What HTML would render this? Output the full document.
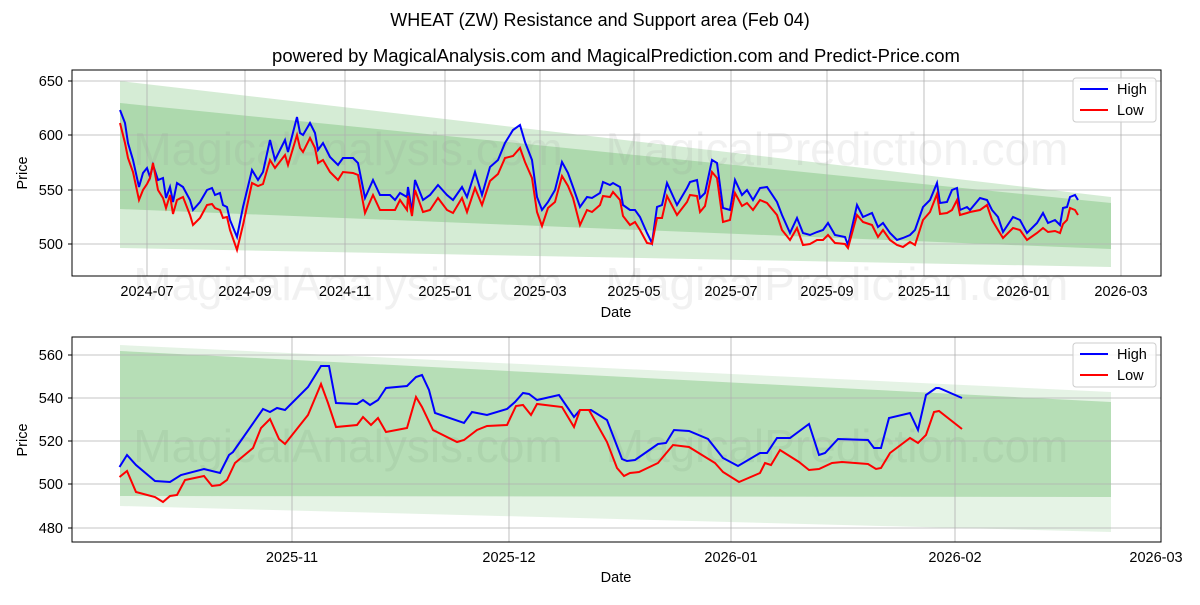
<!DOCTYPE html>
<html><head><meta charset="utf-8"><style>
body{margin:0;background:#fff;}
svg text{font-family:"Liberation Sans","DejaVu Sans",sans-serif;}
</style></head><body>
<svg width="1200" height="600" xmlns="http://www.w3.org/2000/svg">
<rect width="1200" height="600" fill="#fff"/>
<text x="600" y="26" font-size="18" text-anchor="middle">WHEAT (ZW) Resistance and Support area (Feb 04)</text>
<text x="616" y="62" font-size="18.5" text-anchor="middle">powered by MagicalAnalysis.com and MagicalPrediction.com and Predict-Price.com</text>

<!-- TOP CHART -->
<polygon points="120,81 1111,197 1111,267 120,248" fill="#2ca02c" fill-opacity="0.2"/>
<polygon points="120,103 1111,203 1111,249 120,209" fill="#2ca02c" fill-opacity="0.24"/>
<g stroke="#b0b0b0" stroke-width="0.8">
<line x1="72" y1="81" x2="1161" y2="81"/><line x1="72" y1="135" x2="1161" y2="135"/><line x1="72" y1="190" x2="1161" y2="190"/><line x1="72" y1="244" x2="1161" y2="244"/>
<line x1="147" y1="70" x2="147" y2="276"/><line x1="245" y1="70" x2="245" y2="276"/><line x1="345" y1="70" x2="345" y2="276"/><line x1="445" y1="70" x2="445" y2="276"/><line x1="540" y1="70" x2="540" y2="276"/><line x1="634" y1="70" x2="634" y2="276"/><line x1="731" y1="70" x2="731" y2="276"/><line x1="827" y1="70" x2="827" y2="276"/><line x1="924" y1="70" x2="924" y2="276"/><line x1="1023" y1="70" x2="1023" y2="276"/><line x1="1121" y1="70" x2="1121" y2="276"/>
</g>
<g fill="#888" fill-opacity="0.12" font-size="46">
<text x="348" y="165" text-anchor="middle">MagicalAnalysis.com</text>
<text x="837" y="165" text-anchor="middle">MagicalPrediction.com</text>
<text x="348" y="300" text-anchor="middle">MagicalAnalysis.com</text>
<text x="837" y="300" text-anchor="middle">MagicalPrediction.com</text>
<text x="348" y="462" text-anchor="middle">MagicalAnalysis.com</text>
<text x="837" y="462" text-anchor="middle">MagicalPrediction.com</text>
</g>
<polyline fill="none" stroke="#0000ff" stroke-width="2" points="120,110 125,123 128,143 133,160 139,187 143,173 147,168 150,177 153,165 158,180 163,178 166,198 170,187 173,202 177,183 183,187 190,200 193,210 200,202 207,190 212,188 215,195 220,193 223,205 227,207 230,220 237,237 243,207 252,170 258,180 263,172 270,140 275,160 285,140 288,152 297,117 300,133 303,135 310,123 315,133 318,150 323,143 330,157 338,165 343,158 353,158 358,163 365,198 373,180 380,195 390,195 395,200 400,193 407,197 408,187 412,212 415,180 423,200 430,195 438,185 447,195 453,200 462,187 467,197 475,172 482,195 490,167 498,160 505,143 513,130 520,125 525,142 532,160 537,197 542,210 548,202 555,190 562,162 568,173 573,187 580,207 587,197 592,198 600,193 603,182 610,185 613,183 620,187 623,205 630,210 635,210 640,217 647,233 652,243 657,207 662,205 667,183 677,205 687,188 690,182 697,180 700,198 705,193 712,160 717,163 723,208 730,210 735,180 742,195 747,190 753,200 760,188 767,187 777,202 782,215 790,233 797,218 803,233 810,235 817,232 823,230 828,223 835,235 845,237 848,245 857,205 863,217 872,213 878,227 883,223 890,233 897,240 903,238 910,235 915,230 923,207 930,200 937,183 940,203 947,202 952,190 957,188 960,210 967,207 970,210 980,198 987,200 992,210 998,217 1003,232 1013,217 1020,220 1027,233 1037,223 1043,213 1048,223 1055,220 1060,225 1063,208 1067,207 1070,197 1075,195 1078,200"/>
<polyline fill="none" stroke="#ff0000" stroke-width="2" points="120,123 125,143 128,158 133,172 139,200 143,190 147,184 150,178 153,163 158,190 163,198 166,208 170,195 173,214 177,200 183,197 190,215 193,225 200,218 207,205 212,204 215,208 220,210 223,218 227,217 230,230 237,250 243,225 252,183 258,186 263,184 270,160 275,168 285,155 288,165 297,135 300,148 303,152 310,138 315,148 318,163 323,160 330,172 338,180 343,172 353,173 358,175 365,213 373,195 380,210 390,210 395,210 400,200 407,210 408,196 412,216 415,190 423,212 430,210 438,198 447,210 453,213 462,198 467,212 475,188 482,205 490,181 498,174 505,158 513,156 520,148 525,162 532,178 537,212 542,226 548,208 555,202 562,176 568,186 573,198 580,225 587,210 592,212 600,205 603,196 610,197 613,192 620,200 623,216 630,225 635,222 640,230 647,243 652,244 657,218 662,218 667,196 677,215 687,202 690,195 697,196 700,212 705,206 712,172 717,178 723,222 730,220 735,193 742,206 747,203 753,210 760,200 767,203 777,215 782,230 790,240 797,228 803,245 810,244 817,240 823,240 828,235 835,243 845,244 848,248 857,215 863,222 872,225 878,237 883,230 890,240 897,245 903,247 910,242 915,245 923,220 930,212 937,194 940,214 947,213 952,210 957,200 960,215 967,213 970,212 980,210 987,205 992,220 998,230 1003,238 1013,228 1020,230 1027,240 1037,233 1043,228 1048,232 1055,231 1060,233 1063,224 1067,220 1070,208 1075,210 1078,215"/>
<rect x="72" y="70" width="1089" height="206" fill="none" stroke="#000" stroke-width="1"/>
<g font-size="14.5" text-anchor="end">
<text x="63" y="86">650</text><text x="63" y="140">600</text><text x="63" y="195">550</text><text x="63" y="249">500</text>
</g>
<g stroke="#000"><line x1="68" y1="81" x2="72" y2="81"/><line x1="68" y1="135" x2="72" y2="135"/><line x1="68" y1="190" x2="72" y2="190"/><line x1="68" y1="244" x2="72" y2="244"/></g>
<g font-size="14.5" text-anchor="middle">
<text x="147" y="296">2024-07</text><text x="245" y="296">2024-09</text><text x="345" y="296">2024-11</text><text x="445" y="296">2025-01</text><text x="540" y="296">2025-03</text><text x="634" y="296">2025-05</text><text x="731" y="296">2025-07</text><text x="827" y="296">2025-09</text><text x="924" y="296">2025-11</text><text x="1023" y="296">2026-01</text><text x="1121" y="296">2026-03</text>
<text x="616" y="317">Date</text>
</g>
<text x="27" y="173" font-size="14.5" text-anchor="middle" transform="rotate(-90 27 173)">Price</text>
<rect x="1073" y="78" width="83" height="44" rx="3" fill="#fff" fill-opacity="0.85" stroke="#ccc"/>
<line x1="1080" y1="89" x2="1108" y2="89" stroke="#0000ff" stroke-width="2"/><text x="1117" y="94" font-size="14.5">High</text>
<line x1="1080" y1="110" x2="1108" y2="110" stroke="#ff0000" stroke-width="2"/><text x="1117" y="115" font-size="14.5">Low</text>

<!-- BOTTOM CHART -->
<polygon points="120,345 1111,392 1111,532 120,506" fill="#2ca02c" fill-opacity="0.12"/>
<polygon points="120,351 1111,402 1111,497 120,496" fill="#2ca02c" fill-opacity="0.25"/>
<g stroke="#b0b0b0" stroke-width="0.8">
<line x1="72" y1="355" x2="1161" y2="355"/><line x1="72" y1="398" x2="1161" y2="398"/><line x1="72" y1="441" x2="1161" y2="441"/><line x1="72" y1="484" x2="1161" y2="484"/><line x1="72" y1="528" x2="1161" y2="528"/>
<line x1="292" y1="337" x2="292" y2="542"/><line x1="509" y1="337" x2="509" y2="542"/><line x1="731" y1="337" x2="731" y2="542"/><line x1="955" y1="337" x2="955" y2="542"/>
</g>
<polyline fill="none" stroke="#0000ff" stroke-width="2" points="119.5,467 127,455 136,465 155,481 170,482 181,475 204,469 220,473 229,455 233,452 263,409 270,412 277,408 285,410 308,387 321,366 329,366 336,403 357,404 363,400 370,405 378,400 386,388 407,386 416,377 422,375 429,390 435,413 464,423 472,412 487,415 507,409 515,402 523,393 529,394 537,400 559,395 574,417 580,410 591,410 607,420 622,459 627,461 635,460 658,444 666,443 674,430 689,431 708,439 723,458 738,466 760,453 767,453 777,438 790,438 809,424 819,455 825,453 838,439 868,440 874,448 881,448 889,418 910,413 918,430 926,395 936,388 939,388 962,398"/>
<polyline fill="none" stroke="#ff0000" stroke-width="2" points="119.5,477 127,471 136,492 155,497 163,502 170,496 177,495 185,480 204,476 212,486 220,485 227,480 235,463 253,448 261,428 270,419 279,439 285,444 308,415 321,384 328,403 336,427 357,425 363,417 371,425 378,418 386,432 407,428 416,397 422,407 433,430 457,442 464,440 477,430 487,426 507,425 516,406 523,405 531,415 537,404 562,407 574,427 580,410 589,410 607,442 617,468 624,476 630,473 639,472 658,463 673,445 689,447 715,463 723,472 739,482 760,473 765,463 771,465 780,450 799,462 809,470 819,469 832,463 842,462 868,464 876,469 881,468 890,453 910,438 918,443 926,435 934,412 939,411 962,429"/>
<rect x="72" y="337" width="1089" height="205" fill="none" stroke="#000" stroke-width="1"/>
<g font-size="14.5" text-anchor="end">
<text x="63" y="360">560</text><text x="63" y="403">540</text><text x="63" y="446">520</text><text x="63" y="489">500</text><text x="63" y="533">480</text>
</g>
<g stroke="#000"><line x1="68" y1="355" x2="72" y2="355"/><line x1="68" y1="398" x2="72" y2="398"/><line x1="68" y1="441" x2="72" y2="441"/><line x1="68" y1="484" x2="72" y2="484"/><line x1="68" y1="528" x2="72" y2="528"/></g>
<g font-size="14.5" text-anchor="middle">
<text x="292" y="562">2025-11</text><text x="509" y="562">2025-12</text><text x="731" y="562">2026-01</text><text x="955" y="562">2026-02</text><text x="1156" y="562">2026-03</text>
<text x="616" y="582">Date</text>
</g>
<text x="27" y="440" font-size="14.5" text-anchor="middle" transform="rotate(-90 27 440)">Price</text>
<rect x="1073" y="343" width="83" height="44" rx="3" fill="#fff" fill-opacity="0.85" stroke="#ccc"/>
<line x1="1080" y1="354" x2="1108" y2="354" stroke="#0000ff" stroke-width="2"/><text x="1117" y="359" font-size="14.5">High</text>
<line x1="1080" y1="375" x2="1108" y2="375" stroke="#ff0000" stroke-width="2"/><text x="1117" y="380" font-size="14.5">Low</text>
</svg>
</body></html>
